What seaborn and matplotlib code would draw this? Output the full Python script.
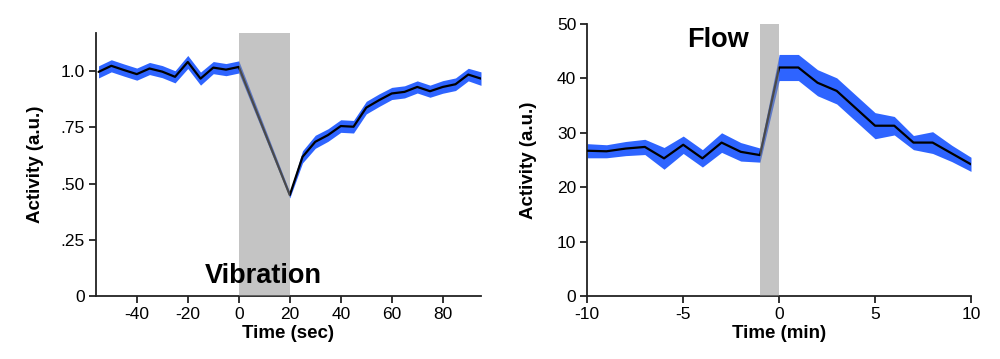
import numpy as np
import matplotlib
matplotlib.use('Agg')
import matplotlib.pyplot as plt
import seaborn as sns

sns.set_theme(style='ticks')
plt.rcParams['font.family'] = ['Liberation Sans', 'DejaVu Sans']
plt.rcParams['axes.unicode_minus'] = False
plt.rcParams['text.color'] = 'black'
plt.rcParams['axes.labelcolor'] = 'black'

# Vibration: time in seconds, no samples during the 0-20 s stimulus
vib_time = [-55, -50, -45, -40, -35, -30, -25, -20, -15, -10, -5, 0,
            20, 25, 30, 35, 40, 45, 50, 55, 60, 65, 70, 75, 80, 85, 90, 95]
vib_mean = [0.997, 1.024, 1.005, 0.987, 1.012, 0.998, 0.975, 1.041, 0.967, 1.016, 1.007, 1.019,
            0.449, 0.619, 0.686, 0.716, 0.756, 0.753, 0.838, 0.871, 0.901, 0.908, 0.930, 0.911,
            0.930, 0.942, 0.985, 0.967]
vib_sem = [0.027, 0.027, 0.027, 0.027, 0.027, 0.027, 0.027, 0.029, 0.029, 0.027, 0.027, 0.027,
           0.013, 0.027, 0.029, 0.028, 0.028, 0.028, 0.028, 0.028, 0.027, 0.027, 0.027, 0.027,
           0.028, 0.028, 0.028, 0.030]

# Flow: time in minutes
flow_time = [-10, -9, -8, -7, -6, -5, -4, -3, -2, -1, 0, 1, 2, 3, 4, 5, 6, 7, 8, 9, 10]
flow_mean = [26.7, 26.6, 27.1, 27.4, 25.3, 27.8, 25.3, 28.2, 26.5, 25.9, 42.0,
             42.0, 39.2, 37.7, 34.5, 31.3, 31.3, 28.2, 28.2, 26.2, 24.2]
flow_sem = [1.3, 1.2, 1.3, 1.4, 2.0, 1.6, 1.6, 1.8, 1.7, 1.3, 2.4,
            2.4, 2.4, 2.4, 2.4, 2.4, 1.7, 1.3, 2.0, 1.5, 1.3]

blue = '#2E64FF'
grey = '#8F8F8F'

fig = plt.figure(figsize=(10, 3.59), dpi=100)
ax1 = fig.add_axes([0.096, 0.1755, 0.385, 0.7326])
ax2 = fig.add_axes([0.5873, 0.1755, 0.3837, 0.7577])


def draw(ax, t, m, s):
    t = np.array(t)
    m = np.array(m)
    s = np.array(s)
    ax.fill_between(t, m - s, m + s, color=blue, lw=0, zorder=2)
    sns.lineplot(x=t, y=m, ax=ax, color='black', lw=1.6, zorder=3)
    for sp in ['top', 'right']:
        ax.spines[sp].set_visible(False)
    for sp in ['left', 'bottom']:
        ax.spines[sp].set_linewidth(1.3)
        ax.spines[sp].set_color('#222222')
    ax.tick_params(axis='both', length=5, width=1.3, labelsize=12.5,
                   color='#222222', labelcolor='black', pad=3)


draw(ax1, vib_time, vib_mean, vib_sem)
ax1.axvspan(0, 20, color=grey, alpha=0.52, lw=0, zorder=4)
ax1.set_xlim(-56, 95)
ax1.set_ylim(0, 1.17)
ax1.set_xticks([-40, -20, 0, 20, 40, 60, 80])
ax1.set_yticks([0, 0.25, 0.5, 0.75, 1.0])
ax1.set_yticklabels(['0', '.25', '.50', '.75', '1.0'])
ax1.set_xlabel('Time (sec)', fontsize=13.5, fontweight='bold', labelpad=2)
ax1.set_ylabel('Activity (a.u.)', fontsize=13.5, fontweight='bold', labelpad=12)
ax1.text(9.5, 0.09, 'Vibration', fontsize=19.5, fontweight='bold',
         ha='center', va='center', zorder=5)

draw(ax2, flow_time, flow_mean, flow_sem)
ax2.axvspan(-1, 0, color=grey, alpha=0.52, lw=0, zorder=4)
ax2.set_xlim(-10, 10)
ax2.set_ylim(0, 50)
ax2.set_xticks([-10, -5, 0, 5, 10])
ax2.set_yticks([0, 10, 20, 30, 40, 50])
ax2.set_xlabel('Time (min)', fontsize=13.5, fontweight='bold', labelpad=2)
ax2.set_ylabel('Activity (a.u.)', fontsize=13.5, fontweight='bold', labelpad=14)
ax2.text(-3.2, 47, 'Flow', fontsize=19.5, fontweight='bold',
         ha='center', va='center', zorder=5)

plt.savefig('out.png', dpi=100)
